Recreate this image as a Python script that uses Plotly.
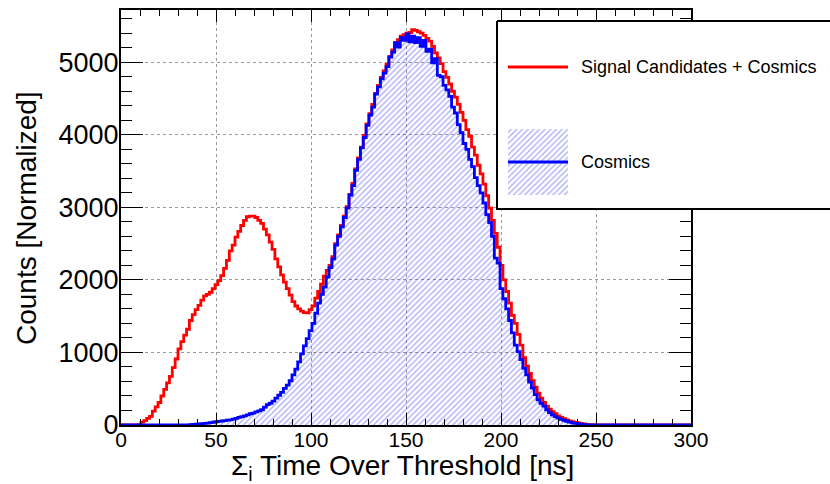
import numpy as np
import plotly.graph_objects as go

# ---------------- data ----------------
bin_width = 1.5          # ns
n_bins = 200             # 0 .. 300 ns

signal_plus_cosmics = [
    0, 0, 0, 0, 0, 0, 5,
    40, 60, 90, 120, 190, 250, 310, 400, 490, 580,
    670, 790, 910, 1050, 1150, 1240, 1320, 1440, 1520, 1590,
    1650, 1720, 1780, 1800, 1830, 1880, 1935, 1990, 2060, 2160,
    2270, 2400, 2480, 2590, 2670, 2750, 2820, 2870, 2880, 2880,
    2860, 2820, 2780, 2700, 2620, 2520, 2420, 2290, 2180, 2070,
    1970, 1880, 1790, 1700, 1640, 1600, 1570, 1550, 1545, 1590,
    1640, 1750, 1840, 1940, 2050, 2130, 2200, 2320, 2500, 2620,
    2750, 2880, 3010, 3180, 3330, 3530, 3680, 3830, 3990, 4150,
    4290, 4420, 4570, 4680, 4790, 4880, 4970, 5080, 5170, 5270,
    5310, 5360, 5380, 5400, 5410, 5450, 5440, 5420, 5400, 5370,
    5330, 5290, 5220, 5130, 5060, 4980, 4870, 4790, 4700, 4600,
    4520, 4420, 4310, 4200, 4070, 3980, 3830, 3720, 3580, 3460,
    3320, 3160, 2990, 2820, 2640, 2450, 2200, 2000, 1840, 1680,
    1510, 1400, 1250, 1100, 930, 810, 710, 610, 520, 440,
    370, 310, 260, 220, 185, 155, 125, 105, 88, 72,
    58, 47, 37, 28, 20, 14, 9, 6, 4, 2,
    0, 0, 0, 0, 0, 0, 0, 0, 0, 0,
    0, 0, 0, 0, 0, 0, 0, 0, 0, 0,
    0, 0, 0, 0, 0, 0, 0, 0, 0, 0,
    0, 0, 0,
]

cosmics = [
    0, 0, 0, 0, 0, 0, 0, 0, 0, 0,
    0, 0, 0, 0, 0, 0, 0, 0, 0, 0,
    0, 0, 0,
    2, 5, 8, 12, 15, 18, 22, 26, 32, 38,
    45, 50, 55, 60, 66, 72, 80, 92, 105, 115,
    125, 140, 155, 165, 180, 195, 210, 245, 280, 300,
    330, 370, 410, 450, 505, 550, 610, 690, 770, 870,
    980, 1090, 1190, 1300, 1400, 1540, 1680, 1800, 1900, 2040,
    2170, 2290, 2480, 2600, 2730, 2860, 2990, 3170, 3300, 3510,
    3660, 3820, 3960, 4130, 4270, 4380, 4560, 4660, 4770, 4850,
    4940, 5070, 5140, 5270, 5210, 5340, 5300, 5390, 5280, 5360,
    5270, 5340, 5220, 5300, 5150, 5180, 4990, 5050, 4820, 4800,
    4680, 4620, 4530, 4380, 4300, 4140, 4030, 3880, 3800, 3660,
    3560, 3410, 3300, 3200, 3060, 2900, 2790, 2600, 2300, 2230,
    1880, 1740, 1600, 1440, 1270, 1100, 1010, 900, 780, 690,
    590, 510, 420, 345, 300, 260, 210, 170, 140, 115,
    95, 78, 64, 52, 40, 30, 22, 15, 10, 6,
    3, 1,
    0, 0, 0, 0, 0, 0, 0, 0, 0, 0,
    0, 0, 0, 0, 0, 0, 0, 0, 0, 0,
    0, 0, 0, 0, 0, 0, 0, 0, 0, 0,
    0, 0, 0, 0, 0,
]

x_ticks = [0, 50, 100, 150, 200, 250, 300]
y_ticks = [0, 1000, 2000, 3000, 4000, 5000]
legend_labels = ["Signal Candidates + Cosmics", "Cosmics"]

# ---------------- figure ----------------
edges = np.arange(n_bins + 1) * bin_width


def steps(vals):
    return list(edges), list(vals) + [vals[-1]]


FONT = "Liberation Sans, Arial, Helvetica, sans-serif"
RED = "#ff0000"
BLUE = "#0000ff"
HATCH = dict(shape="/", fgcolor="rgba(45,45,235,0.8)", size=4, solidity=0.33)
LW = 2.8

W, H = 830, 484
ML, MT, MB = 121, 10, 59
PW = W - ML                 # plotting width (margin r = 0)
PH = H - MT - MB            # 415
AX_RIGHT = 691              # right frame of the main plot (px)

fig = go.Figure()

xs, ys = steps(cosmics)
fig.add_trace(go.Scatter(x=xs, y=ys, mode="lines", line=dict(width=0, shape="hv"),
                         fill="tozeroy", fillcolor="rgba(0,0,0,0)", fillpattern=HATCH,
                         showlegend=False, hoverinfo="skip"))
xr, yr = steps(signal_plus_cosmics)
fig.add_trace(go.Scatter(x=xr, y=yr, mode="lines", line=dict(color=RED, width=LW, shape="hv"),
                         showlegend=False))
fig.add_trace(go.Scatter(x=xs, y=ys, mode="lines", line=dict(color=BLUE, width=LW, shape="hv"),
                         showlegend=False))

# ---- legend drawn in its own hidden subplot (pixel coordinates) ----
LX0, LX1, LY0, LY1 = 496, 830, 20, 210
fig.add_trace(go.Scatter(x=[497, 840, 840, 497, 497], y=[21, 21, 209, 209, 21],
                         mode="lines", fill="toself", fillcolor="white",
                         line=dict(color="black", width=2),
                         xaxis="x2", yaxis="y2", showlegend=False, hoverinfo="skip"))
fig.add_trace(go.Scatter(x=[508, 568, 568, 508, 508], y=[129, 129, 195, 195, 129],
                         mode="lines", fill="toself", fillcolor="rgba(0,0,0,0)",
                         fillpattern=HATCH, line=dict(width=0),
                         xaxis="x2", yaxis="y2", showlegend=False, hoverinfo="skip"))
fig.add_trace(go.Scatter(x=[508, 568], y=[67, 67], mode="lines", line=dict(color=RED, width=LW),
                         xaxis="x2", yaxis="y2", showlegend=False, hoverinfo="skip"))
fig.add_trace(go.Scatter(x=[508, 568], y=[162, 162], mode="lines", line=dict(color=BLUE, width=LW),
                         xaxis="x2", yaxis="y2", showlegend=False, hoverinfo="skip"))

axis_common = dict(
    showline=True, linecolor="black", linewidth=2, mirror="allticks",
    ticks="inside", tickcolor="black", tickwidth=1,
    showgrid=True, gridcolor="#9a9a9a", gridwidth=1, griddash="dot",
    zeroline=False,
)

fig.update_layout(
    width=W, height=H,
    margin=dict(l=ML, r=0, t=MT, b=MB, pad=0, autoexpand=False),
    paper_bgcolor="white", plot_bgcolor="white",
    showlegend=False,
    xaxis=dict(axis_common, domain=[0, (AX_RIGHT - ML) / PW], range=[0, 300],
               tickvals=x_ticks, ticklen=12, automargin=False, ticklabelstandoff=-5,
               tickfont=dict(family=FONT, size=21, color="black"),
               minor=dict(dtick=10, ticklen=6, ticks="inside", tickcolor="black", showgrid=False)),
    yaxis=dict(axis_common, range=[0, 5720], tickvals=y_ticks, ticklen=22, automargin=False,
               ticklabelstandoff=-5,
               tickfont=dict(family=FONT, size=27, color="black"),
               minor=dict(dtick=200, ticklen=11, ticks="inside", tickcolor="black", showgrid=False)),
    xaxis2=dict(domain=[(LX0 - ML) / PW, 1], range=[LX0, LX1], visible=False, anchor="y2"),
    yaxis2=dict(domain=[(MT + PH - LY1) / PH, (MT + PH - LY0) / PH], range=[LY1, LY0],
                visible=False, anchor="x2"),
)

fig.add_annotation(text=legend_labels[0], xref="x2", yref="y2", x=579, y=67,
                   xanchor="left", yanchor="middle", showarrow=False,
                   font=dict(family=FONT, size=18, color="black"))
fig.add_annotation(text=legend_labels[1], xref="x2", yref="y2", x=579, y=162,
                   xanchor="left", yanchor="middle", showarrow=False,
                   font=dict(family=FONT, size=18, color="black"))

# axis titles
fig.add_annotation(text="\u03a3<sub>i</sub> Time Over Threshold [ns]", xref="paper", yref="paper",
                   x=(402 - ML) / PW, y=(MT + PH - 467) / PH, xanchor="center", yanchor="middle",
                   showarrow=False, font=dict(family=FONT, size=28, color="black"))
fig.add_annotation(text="Counts [Normalized]", xref="paper", yref="paper",
                   x=(27 - ML) / PW, y=(MT + PH - 218) / PH, xanchor="center", yanchor="middle",
                   textangle=-90, showarrow=False, font=dict(family=FONT, size=28, color="black"))

fig.write_html("out.html", config={"displayModeBar": False},
               post_script="document.body.style.margin='0';")
